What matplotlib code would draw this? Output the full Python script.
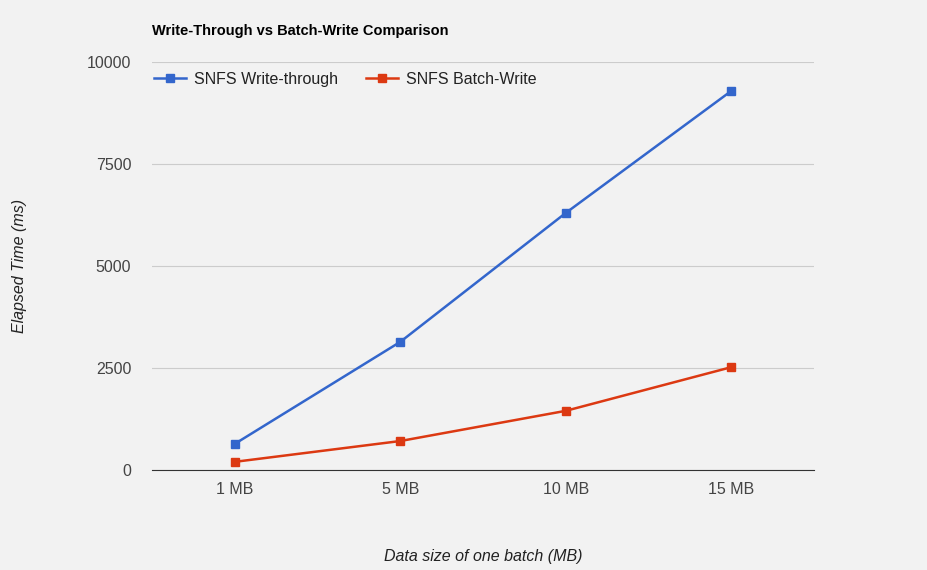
import matplotlib.pyplot as plt

categories = ['1 MB', '5 MB', '10 MB', '15 MB']
write_through = [640, 3140, 6300, 9290]
batch_write = [200, 710, 1450, 2520]

plt.rcParams['font.family'] = ['Liberation Sans', 'DejaVu Sans']

bg = '#f2f2f2'
fig = plt.figure(figsize=(9.27, 5.70), dpi=100, facecolor=bg)
ax = fig.add_axes([152/927, 1 - 470/570, (814-152)/927, (470-62)/570], facecolor=bg)

x = range(len(categories))
ax.plot(x, write_through, color='#3366cc', linewidth=1.8, marker='s', markersize=6, label='SNFS Write-through')
ax.plot(x, batch_write, color='#dc3912', linewidth=1.8, marker='s', markersize=6, label='SNFS Batch-Write')

ax.set_xlim(-0.5, 3.5)
ax.set_ylim(0, 10000)
ax.set_yticks([0, 2500, 5000, 7500, 10000])
ax.set_xticks(list(x))
ax.set_xticklabels(categories)
ax.grid(axis='y', color='#cccccc', linewidth=0.8)
ax.set_axisbelow(True)
for s in ['top', 'right', 'left']:
    ax.spines[s].set_visible(False)
ax.spines['bottom'].set_color('#333333')
ax.tick_params(length=0, labelsize=11.5, colors='#444444')
ax.tick_params(axis='y', pad=15)
ax.tick_params(axis='x', pad=9)

ax.set_xlabel('Data size of one batch (MB)', style='italic', fontsize=11.5, color='#222222', labelpad=37)
fig.text(20/927, 1 - 266/570, 'Elapsed Time (ms)', rotation=90, style='italic', fontsize=11.5,
         color='#222222', ha='center', va='center')
fig.text(152/927, 1 - 31/570, 'Write-Through vs Batch-Write Comparison', fontsize=10.5,
         fontweight='bold', va='center')

ax.legend(loc='upper left', bbox_to_anchor=(-0.012, 1.0), ncol=2, frameon=False, fontsize=11.5,
          handlelength=2, handletextpad=0.5, columnspacing=1.8, borderaxespad=0.2, labelcolor='#222222')

fig.savefig('out.png', dpi=100, facecolor=bg)
